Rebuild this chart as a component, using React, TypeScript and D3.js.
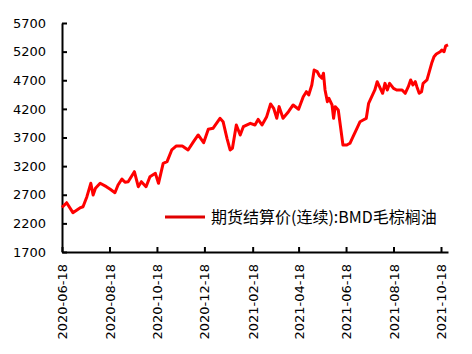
import { useEffect, useRef } from "react";
import * as d3 from "d3";

// BMD crude palm oil, continuous settlement
const dates = [
  "2020-06-18", "2020-06-24", "2020-07-02", "2020-07-11", "2020-07-15", "2020-07-20",
  "2020-07-25", "2020-07-28", "2020-07-31", "2020-08-06", "2020-08-14", "2020-08-19",
  "2020-08-25", "2020-08-29", "2020-09-03", "2020-09-07", "2020-09-11", "2020-09-19",
  "2020-09-24", "2020-09-28", "2020-10-04", "2020-10-09", "2020-10-16", "2020-10-20",
  "2020-10-26", "2020-10-31", "2020-11-06", "2020-11-12", "2020-11-19", "2020-11-21",
  "2020-11-27", "2020-12-04", "2020-12-10", "2020-12-17", "2020-12-23", "2020-12-29",
  "2021-01-07", "2021-01-11", "2021-01-16", "2021-01-20", "2021-01-23", "2021-01-28",
  "2021-02-02", "2021-02-06", "2021-02-15", "2021-02-21", "2021-02-25", "2021-03-02",
  "2021-03-08", "2021-03-13", "2021-03-17", "2021-03-21", "2021-03-24", "2021-03-29",
  "2021-04-05", "2021-04-11", "2021-04-18", "2021-04-24", "2021-04-28", "2021-05-01",
  "2021-05-05", "2021-05-08", "2021-05-12", "2021-05-15", "2021-05-18", "2021-05-20",
  "2021-05-22", "2021-05-25", "2021-05-27", "2021-05-31", "2021-06-02", "2021-06-04",
  "2021-06-08", "2021-06-12", "2021-06-14", "2021-06-19", "2021-06-23", "2021-06-27",
  "2021-07-02", "2021-07-06", "2021-07-10", "2021-07-14", "2021-07-17", "2021-07-21",
  "2021-07-25", "2021-07-28", "2021-08-01", "2021-08-04", "2021-08-07", "2021-08-10",
  "2021-08-13", "2021-08-18", "2021-08-22", "2021-08-29", "2021-09-02", "2021-09-06",
  "2021-09-09", "2021-09-12", "2021-09-15", "2021-09-17", "2021-09-20", "2021-09-23",
  "2021-09-25", "2021-09-30", "2021-10-03", "2021-10-06", "2021-10-09", "2021-10-12",
  "2021-10-17", "2021-10-19", "2021-10-22", "2021-10-24", "2021-10-27",
];

const prices = [
  2480, 2561, 2387, 2469, 2490, 2666,
  2900, 2696, 2812, 2900, 2841, 2795,
  2736, 2870, 2975, 2918, 2928, 3103,
  2840, 2928, 2840, 3015, 3074, 2900,
  3249, 3278, 3482, 3552, 3552, 3540,
  3482, 3627, 3744, 3610, 3843, 3860,
  4035, 3976, 3686, 3482, 3511, 3918,
  3744, 3889, 3948, 3918, 4017, 3918,
  4064, 4286, 4210, 4035, 4239, 4035,
  4151, 4268, 4193, 4413, 4500, 4443,
  4617, 4879, 4850, 4775, 4735, 4822,
  4530, 4326, 4385, 4268, 4035, 4239,
  4181, 3774, 3569, 3569, 3599, 3715,
  3860, 3976, 4006, 4035, 4297, 4413,
  4530, 4675, 4559, 4472, 4646, 4530,
  4646, 4559, 4530, 4530, 4472, 4588,
  4705, 4617, 4675, 4588, 4472, 4500,
  4646, 4705, 4850, 4996, 5112, 5159,
  5199, 5229, 5199, 5299, 5317,
];

const yTicks = [1700, 2200, 2700, 3200, 3700, 4200, 4700, 5200, 5700];
const xTickLabels = [
  "2020-06-18", "2020-08-18", "2020-10-18", "2020-12-18", "2021-02-18",
  "2021-04-18", "2021-06-18", "2021-08-18", "2021-10-18",
];
const seriesName = "期货结算价(连续):BMD毛棕榈油";

export default function App() {
  const ref = useRef<SVGSVGElement>(null);

  useEffect(() => {
    const svg = d3.select(ref.current);
    svg.selectAll("*").remove();

    const parse = d3.timeParse("%Y-%m-%d");
    const data = dates.map((d, i) => ({ date: parse(d)!, value: prices[i] }));

    const x = d3
      .scaleTime()
      .domain([parse("2020-06-18")!, parse("2021-10-27")!])
      .range([62, 448]);

    const y = d3.scaleLinear().domain([1700, 5700]).range([252, 23]);

    // y axis
    const gy = svg
      .append("g")
      .attr("transform", "translate(62,0)")
      .call(
        d3
          .axisLeft(y)
          .tickValues(yTicks)
          .tickFormat(d3.format("d"))
          .tickSizeInner(-5)
          .tickSizeOuter(0)
          .tickPadding(16)
      );
    gy.select(".domain").attr("stroke", "#000").attr("stroke-width", 2);
    gy.selectAll(".tick line").attr("stroke", "#000").attr("stroke-width", 2);
    gy.selectAll(".tick text")
      .attr("fill", "#000")
      .style("font-family", "'DejaVu Sans', sans-serif")
      .style("font-size", "13px");

    // x axis
    const gx = svg
      .append("g")
      .attr("transform", "translate(0,252)")
      .call(
        d3
          .axisBottom(x)
          .tickValues(xTickLabels.map((s) => parse(s)!))
          .tickFormat((d) => d3.timeFormat("%Y-%m-%d")(d as Date))
          .tickSizeInner(-5)
          .tickSizeOuter(0)
      );
    gx.select(".domain").attr("stroke", "#000").attr("stroke-width", 2);
    gx.selectAll(".tick line").attr("stroke", "#000").attr("stroke-width", 2);
    gx.selectAll(".tick text")
      .attr("fill", "#000")
      .attr("transform", "rotate(-90)")
      .attr("text-anchor", "end")
      .attr("x", -12)
      .attr("y", 0)
      .attr("dy", "0.35em")
      .style("font-family", "'DejaVu Sans', sans-serif")
      .style("font-size", "13px");

    // series line
    const line = d3
      .line<{ date: Date; value: number }>()
      .x((d) => x(d.date))
      .y((d) => y(d.value));

    svg
      .append("path")
      .datum(data)
      .attr("fill", "none")
      .attr("stroke", "#ff0000")
      .attr("stroke-width", 3)
      .attr("stroke-linejoin", "round")
      .attr("d", line);

    // legend
    const lg = svg.append("g").attr("transform", "translate(165,217)");
    lg.append("line")
      .attr("x1", 0)
      .attr("x2", 40)
      .attr("stroke", "#e00000")
      .attr("stroke-width", 3);
    lg.append("text")
      .attr("x", 46)
      .attr("dy", "0.35em")
      .attr("fill", "#000")
      .style("font-family", "'Noto Sans CJK SC', sans-serif")
      .style("font-size", "16px")
      .text(seriesName);
  }, []);

  return (
    <div style={{ position: "absolute", left: 0, top: 0 }}>
      <svg ref={ref} width={472} height={354} style={{ display: "block", background: "#fff" }} />
    </div>
  );
}
